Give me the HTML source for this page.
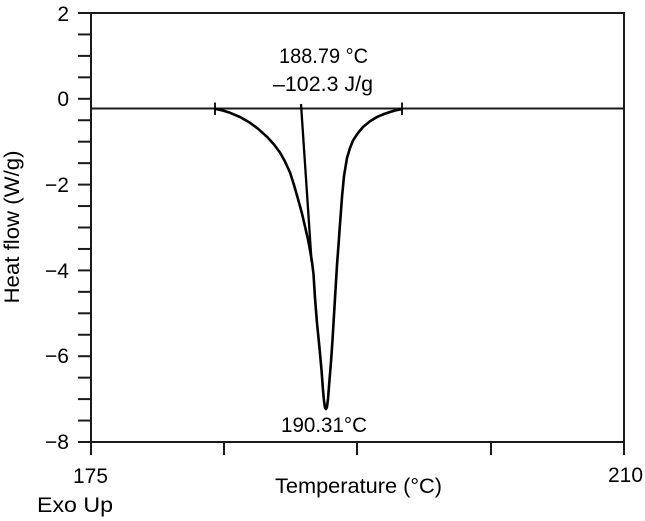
<!DOCTYPE html>
<html>
<head>
<meta charset="utf-8">
<style>
html,body{margin:0;padding:0;background:#fff;}
svg{display:block;}
text{font-family:"Liberation Sans",Arial,sans-serif;fill:#000;}
</style>
</head>
<body>
<svg width="645" height="521" viewBox="0 0 645 521" xmlns="http://www.w3.org/2000/svg">
  <g stroke="#1a1a1a" stroke-width="2" fill="none" stroke-linecap="butt">
    <!-- frame -->
    <line x1="78" y1="13" x2="625" y2="13"/>
    <line x1="91" y1="12" x2="91" y2="455"/>
    <line x1="624" y1="12" x2="624" y2="455"/>
    <line x1="78" y1="442" x2="625" y2="442"/>
    <!-- y ticks -->
    <line x1="78" y1="34.45" x2="91" y2="34.45"/>
    <line x1="78" y1="55.9" x2="91" y2="55.9"/>
    <line x1="78" y1="77.35" x2="91" y2="77.35"/>
    <line x1="78" y1="98.8" x2="91" y2="98.8"/>
    <line x1="78" y1="120.25" x2="91" y2="120.25"/>
    <line x1="78" y1="141.7" x2="91" y2="141.7"/>
    <line x1="78" y1="163.15" x2="91" y2="163.15"/>
    <line x1="78" y1="184.6" x2="91" y2="184.6"/>
    <line x1="78" y1="206.05" x2="91" y2="206.05"/>
    <line x1="78" y1="227.5" x2="91" y2="227.5"/>
    <line x1="78" y1="248.95" x2="91" y2="248.95"/>
    <line x1="78" y1="270.4" x2="91" y2="270.4"/>
    <line x1="78" y1="291.85" x2="91" y2="291.85"/>
    <line x1="78" y1="313.3" x2="91" y2="313.3"/>
    <line x1="78" y1="334.75" x2="91" y2="334.75"/>
    <line x1="78" y1="356.2" x2="91" y2="356.2"/>
    <line x1="78" y1="377.65" x2="91" y2="377.65"/>
    <line x1="78" y1="399.1" x2="91" y2="399.1"/>
    <line x1="78" y1="420.55" x2="91" y2="420.55"/>
    <!-- x ticks -->
    <line x1="224" y1="442" x2="224" y2="455"/>
    <line x1="357" y1="442" x2="357" y2="455"/>
    <line x1="491" y1="442" x2="491" y2="455"/>
    <!-- baseline -->
    <line x1="91" y1="108.5" x2="624" y2="108.5"/>
    <line x1="215" y1="102.5" x2="215" y2="115"/>
    <line x1="402" y1="102.5" x2="402" y2="115"/>
  </g>
  <!-- tangent -->
  <line x1="301" y1="104" x2="311.6" y2="262" stroke="#000" stroke-width="2.3"/>
  <!-- DSC curve -->
  <polyline fill="none" stroke="#000" stroke-width="2.6" stroke-linejoin="round" stroke-linecap="round"
    points="215,108.7 222,110.3 230,112.8 240,117 250,122.8 258,128.7 267,136.8 274,144.5 280,152.5 285,161.5 290,172.5 294,185 298,199 302,213.5 305,226.5 308,239.5 310,250 312,262 313.5,274 315,298 317,323 319.5,348 321.5,370 323,390 324,401 325,407.5 326,409 327,407 328,399 329.5,380 331,362 332.5,340 334,315 335.5,290 337,265 338.5,245 340,224 342,197 344,176 347,158 350,148 353,140.5 358,133 363,127 370,121.2 377,117 384,114 390,112 396,110.3 402,109"/>
  <!-- y tick labels -->
  <g font-size="21" text-anchor="end">
    <text x="69" y="21">2</text>
    <text x="69" y="106">0</text>
    <text x="69" y="192">−2</text>
    <text x="69" y="278">−4</text>
    <text x="69" y="363">−6</text>
    <text x="69" y="449">−8</text>
  </g>
  <!-- x labels -->
  <text x="90.5" y="483" font-size="21" text-anchor="middle" textLength="35" lengthAdjust="spacingAndGlyphs">175</text>
  <text x="625.5" y="482" font-size="21" text-anchor="middle" textLength="35" lengthAdjust="spacingAndGlyphs">210</text>
  <text x="275" y="493" font-size="21" textLength="167" lengthAdjust="spacingAndGlyphs">Temperature (°C)</text>
  <text x="37" y="512" font-size="21" textLength="76" lengthAdjust="spacingAndGlyphs">Exo Up</text>
  <!-- y axis label -->
  <text transform="translate(19,227) rotate(-90)" font-size="21" text-anchor="middle" textLength="153" lengthAdjust="spacingAndGlyphs">Heat flow (W/g)</text>
  <!-- annotations -->
  <text x="279" y="63" font-size="21" textLength="89" lengthAdjust="spacingAndGlyphs">188.79 °C</text>
  <text x="273" y="91" font-size="21" textLength="100" lengthAdjust="spacingAndGlyphs">–102.3 J/g</text>
  <text x="281" y="432" font-size="21" textLength="86" lengthAdjust="spacingAndGlyphs">190.31°C</text>
</svg>
</body>
</html>
